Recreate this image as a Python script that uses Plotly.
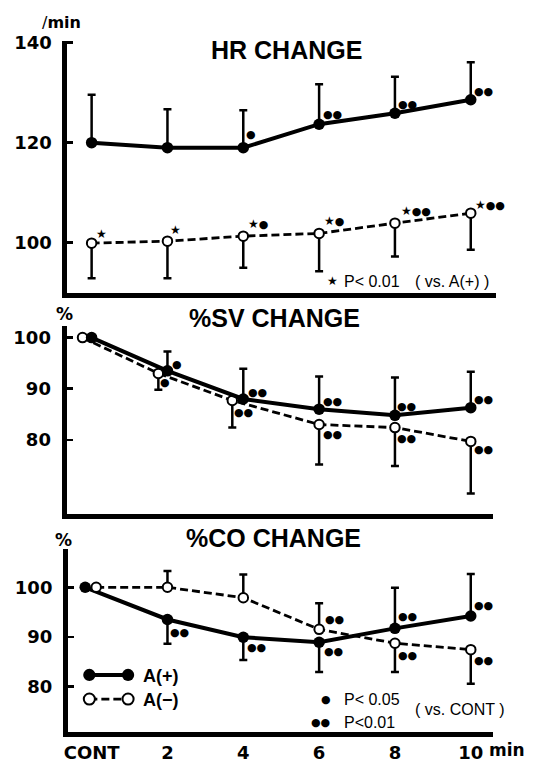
import plotly.graph_objects as go

W, H = 533, 763

# ---------------- data ----------------
time_min = [0, 2, 4, 6, 8, 10]
time_labels = ["CONT", "2", "4", "6", "8", "10"]

# HR (/min)
hr_pos = [120.0, 119.0, 119.0, 123.7, 125.9, 128.6]
hr_pos_sd_up = [9.6, 7.7, 7.5, 8.0, 7.3, 7.5]
hr_pos_sd_down = [0, 0, 0, 0, 0, 0]
hr_neg = [99.9, 100.3, 101.3, 101.85, 103.9, 105.9]
hr_neg_sd_up = [0, 0, 0, 0, 0, 0]
hr_neg_sd_down = [7.0, 7.4, 6.3, 7.55, 6.65, 7.3]
hr_pos_sig = ["", "", "*", "**", "**", "**"]
hr_neg_sig = ["+", "+", "+*", "+*", "+**", "+**"]

# %SV
sv_pos = [100.0, 93.5, 88.0, 86.0, 84.8, 86.3]
sv_pos_sd_up = [0, 3.8, 5.9, 6.4, 7.4, 7.0]
sv_pos_sd_down = [0, 0, 0, 0, 0, 0]
sv_neg = [100.0, 93.0, 87.7, 83.0, 82.4, 79.7]
sv_neg_sd_up = [0, 0, 0, 0, 0, 0]
sv_neg_sd_down = [0, 3.2, 5.3, 7.8, 7.5, 10.2]
sv_pos_sig = ["", "*", "**", "**", "**", "**"]
sv_neg_sig = ["", "*", "**", "**", "**", "**"]

# %CO
co_pos = [100.0, 93.5, 89.9, 88.9, 91.7, 94.2]
co_pos_sd_up = [0, 0, 0, 0, 8.2, 8.5]
co_pos_sd_down = [0, 4.9, 4.6, 6.0, 0, 0]
co_neg = [100.0, 100.0, 97.9, 91.5, 88.7, 87.4]
co_neg_sd_up = [0, 3.3, 4.7, 5.3, 0, 0]
co_neg_sd_down = [0, 0, 0, 0, 5.8, 6.9]
co_pos_sig = ["", "**", "**", "**", "**", "**"]
co_neg_sig = ["", "", "", "**", "**", "**"]

# ---------------- styling / placement (pixels) ----------------
# horizontal dodge of overlapping points (in x units)
sv_neg_dodge = [-0.24, -0.24, -0.29, 0, 0, 0]
co_pos_dodge = [-0.17, 0, 0, 0, 0, 0]
co_neg_dodge = [0.12, 0, 0, 0, 0, 0]

# significance-mark offsets from each point (dx right, dy down), px
hr_pos_off = [(0, 0), (0, 0), (8, -13), (13, -10), (13, -9), (13, -8)]
hr_neg_off = [(10, -9), (8, -11), (15, -12), (15, -12), (21, -12), (19, -8)]
sv_pos_off = [(0, 0), (10, -6), (14, -6), (13, -8), (12, -9), (13, -8)]
sv_neg_off = [(0, 0), (7, 9), (11, 12), (13, 10), (12, 11), (13, 8)]
co_pos_off = [(0, 0), (12, 13), (13, 10), (14, 9), (13, -12), (13, -11)]
co_neg_off = [(0, 0), (0, 0), (0, 0), (15, -10), (13, 12), (13, 11)]


def px_x(p):
    return p / W


def px_y(p):
    return 1 - p / H


fig = go.Figure()


def add_series(xa, ya, xs, ys, up, down, filled):
    fig.add_trace(go.Scatter(
        x=xs, y=ys, xaxis=xa, yaxis=ya, mode="lines+markers",
        line=dict(color="black", width=4 if filled else 2.8,
                  dash="solid" if filled else "8px,4px"),
        marker=dict(size=11.5 if filled else 9.5,
                    color="black" if filled else "white",
                    line=dict(color="black", width=0 if filled else 2)),
        error_y=dict(type="data", symmetric=False, array=up, arrayminus=down,
                     color="black", thickness=2.5, width=4),
        showlegend=False, hoverinfo="skip"))


def fmt_mark(m):
    out = ""
    for ch in m:
        if ch == "+":
            out += "<span style='font-size:12px'>★</span>"
        else:
            out += "●"
    return out


def add_marks(xa, ya, xs, ys, marks, offs):
    for xi, yi, m, (dx, dy) in zip(xs, ys, marks, offs):
        if not m:
            continue
        fig.add_annotation(x=xi, y=yi, xref=xa, yref=ya, text=fmt_mark(m),
                           showarrow=False, xshift=dx, yshift=-dy,
                           font=dict(family="DejaVu Sans", size=11, color="black"))


def dodge(xs, d):
    return [a + b for a, b in zip(xs, d)]


# HR panel
add_series("x", "y", time_min, hr_neg, hr_neg_sd_up, hr_neg_sd_down, False)
add_series("x", "y", time_min, hr_pos, hr_pos_sd_up, hr_pos_sd_down, True)
add_marks("x", "y", time_min, hr_pos, hr_pos_sig, hr_pos_off)
add_marks("x", "y", time_min, hr_neg, hr_neg_sig, hr_neg_off)

# SV panel
sv_neg_x = dodge(time_min, sv_neg_dodge)
add_series("x2", "y2", sv_neg_x, sv_neg, sv_neg_sd_up, sv_neg_sd_down, False)
add_series("x2", "y2", time_min, sv_pos, sv_pos_sd_up, sv_pos_sd_down, True)
add_marks("x2", "y2", time_min, sv_pos, sv_pos_sig, sv_pos_off)
add_marks("x2", "y2", sv_neg_x, sv_neg, sv_neg_sig, sv_neg_off)

# CO panel
co_pos_x = dodge(time_min, co_pos_dodge)
co_neg_x = dodge(time_min, co_neg_dodge)
add_series("x3", "y3", co_pos_x, co_pos, co_pos_sd_up, co_pos_sd_down, True)
add_series("x3", "y3", co_neg_x, co_neg, co_neg_sd_up, co_neg_sd_down, False)
add_marks("x3", "y3", co_pos_x, co_pos, co_pos_sig, co_pos_off)
add_marks("x3", "y3", co_neg_x, co_neg, co_neg_sig, co_neg_off)

tickfont = dict(family="DejaVu Sans", size=18, color="black", weight="bold")

xbase = dict(showline=True, linewidth=5, linecolor="black", showgrid=False,
             zeroline=False, ticks="", showticklabels=False, fixedrange=True)
ybase = dict(showline=True, linewidth=5, linecolor="black", showgrid=False,
             zeroline=False, ticks="inside", ticklen=6, tickwidth=2.5,
             tickcolor="black", tickfont=tickfont, ticklabelstandoff=7,
             fixedrange=True)

fig.update_layout(
    width=W, height=H, margin=dict(l=0, r=0, t=0, b=0),
    plot_bgcolor="white", paper_bgcolor="white", showlegend=False,
    xaxis=dict(xbase, domain=[px_x(63.8), px_x(496)], range=[-0.641, 10.673], anchor="y"),
    yaxis=dict(ybase, domain=[px_y(289.2), px_y(33)], range=[89.87, 140.26],
               tickvals=[100, 120, 140], anchor="x"),
    xaxis2=dict(xbase, domain=[px_x(63), px_x(493)], range=[-0.662, 10.594], anchor="y2"),
    yaxis2=dict(ybase, domain=[px_y(513.5), px_y(322)], range=[65.54, 102.37],
                tickvals=[80, 90, 100], anchor="x2"),
    xaxis3=dict(xbase, domain=[px_x(64.5), px_x(493)], range=[-0.623, 10.594], anchor="y3",
                showticklabels=True, tickvals=time_min, ticktext=time_labels,
                tickfont=tickfont),
    yaxis3=dict(ybase, domain=[px_y(735.8), px_y(549.7)], range=[70.71, 107.67],
                tickvals=[80, 90, 100], anchor="x3"),
)


def paper_text(x, y, text, size, bold=False, family="Liberation Sans", anchor="center"):
    fig.add_annotation(x=px_x(x), y=px_y(y), xref="paper", yref="paper", text=text,
                       showarrow=False, xanchor=anchor, yanchor="middle",
                       font=dict(family=family, size=size, color="black",
                                 weight="bold" if bold else "normal"))


# titles and unit labels
paper_text(285, 42, "HR CHANGE", 25, True)
paper_text(273, 314, "%SV CHANGE", 25, True)
paper_text(272, 538.5, "%CO CHANGE", 25, True)
paper_text(58, 14, "/<b>min</b>", 16, False, "DejaVu Sans")
paper_text(61, 310, "%", 17, True, "DejaVu Sans")
paper_text(60, 540, "%", 17, True, "DejaVu Sans")
paper_text(487, 754, "min", 17, True, "DejaVu Sans", "left")

# HR note
paper_text(331, 277, "★", 12, False, "DejaVu Sans")
paper_text(341, 277, "P&lt; 0.01", 16, False, "Liberation Sans", "left")
paper_text(412, 277, "( vs. A(+) )", 16, False, "Liberation Sans", "left")

# CO significance key
paper_text(324, 702, "●", 11, False, "DejaVu Sans")
paper_text(341, 702, "P&lt; 0.05", 16, False, "Liberation Sans", "left")
paper_text(319, 726, "●●", 11, False, "DejaVu Sans")
paper_text(341, 726, "P&lt;0.01", 16, False, "Liberation Sans", "left")
paper_text(412, 713, "( vs. CONT )", 16, False, "Liberation Sans", "left")


# series key (A(+), A(-))
def key_row(y, filled):
    fig.add_shape(type="line", xref="paper", yref="paper",
                  x0=px_x(86), x1=px_x(125), y0=px_y(y), y1=px_y(y),
                  line=dict(color="black", width=4 if filled else 2.8,
                            dash="solid" if filled else "8px,4px"))
    r = 6.2 if filled else 5.6
    for cx in (86, 125):
        fig.add_shape(type="circle", xref="paper", yref="paper",
                      x0=px_x(cx - r), x1=px_x(cx + r), y0=px_y(y + r), y1=px_y(y - r),
                      fillcolor="black" if filled else "white",
                      line=dict(color="black", width=0 if filled else 2))


key_row(677.5, True)
key_row(702, False)
paper_text(138, 679, "A(+)", 18, True, "Liberation Sans", "left")
paper_text(138, 703, "A(−)", 18, True, "Liberation Sans", "left")

fig.write_html("out.html", config={"displayModeBar": False, "staticPlot": True},
               post_script="document.body.style.margin='0';document.body.style.overflow='hidden';")
